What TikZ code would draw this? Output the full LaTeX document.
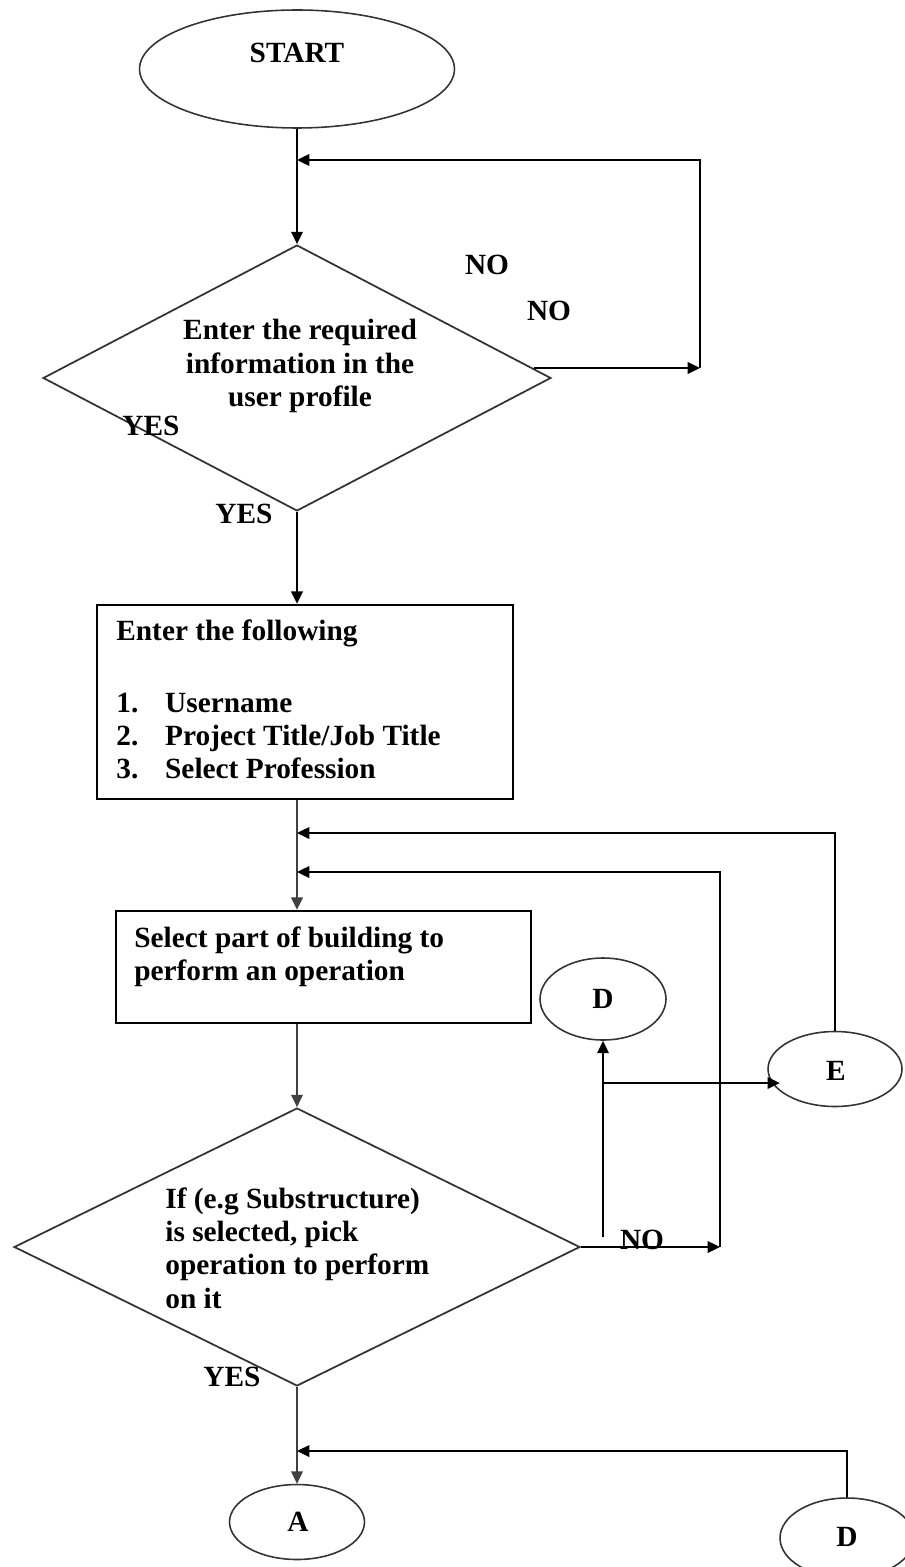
\documentclass[tikz,border=0pt]{standalone}
\usepackage{fontspec}
\setmainfont{Liberation Serif}
\usetikzlibrary{shapes.geometric,arrows.meta}
\begin{document}
\begin{tikzpicture}[x=0.02cm,y=-0.02cm,
  txt/.style={font=\fontsize{16.7}{19}\selectfont\bfseries, inner sep=0pt, text=black},
  conn/.style={line width=1.2pt, draw=black, -{Triangle[length=7pt,width=6.5pt]}},
  trunk/.style={conn, draw=black!75},
  plainline/.style={line width=1.2pt, draw=black},
  oval/.style={ellipse, draw=black!80, line width=0.9pt, inner sep=0pt},
  decision/.style={diamond, draw=black!80, line width=1pt, inner sep=0pt},
  procbox/.style={rectangle, draw=black, line width=1.4pt, inner sep=0pt}]
\useasboundingbox (0,0) rectangle (905,1567);
\clip (0,0) rectangle (905,1567);

% shapes
\node[oval, minimum width=6.3cm, minimum height=2.36cm] (start) at (297,69) {};
\node[txt] (starttxt) at (297,53) {START};

\node[decision, minimum width=10.16cm, minimum height=5.32cm] (d1) at (297,378) {};
\node[txt, align=center] (d1txt) at (300,366) {Enter the required\\information in the\\user profile};

\node[procbox, minimum width=8.32cm, minimum height=3.88cm] (box1) at (305,702) {};
\node[txt, anchor=west] (box1head) at (116,633) {Enter the following};
\node[txt, anchor=west, align=left] (box1list) at (116,736)
  {\makebox[27.8pt][l]{1.}Username\\\makebox[27.8pt][l]{2.}Project Title/Job Title\\\makebox[27.8pt][l]{3.}Select Profession};

\node[procbox, minimum width=8.3cm, minimum height=2.24cm] (box2) at (323.5,967) {};
\node[txt, anchor=west, align=left] (box2txt) at (134,957) {Select part of building to\\perform an operation};

\node[oval, minimum width=2.52cm, minimum height=1.64cm] (Dn) at (603,999) {};
\node[txt] (Dtxt) at (603,999) {D};

\node[oval, minimum width=2.68cm, minimum height=1.5cm] (En) at (835,1069) {};
\node[txt] (Etxt) at (836,1071) {E};

\node[decision, minimum width=11.32cm, minimum height=5.56cm] (d2) at (297,1247) {};
\node[txt, anchor=west, align=left] (d2txt) at (165,1248) {If (e.g Substructure)\\is selected, pick\\operation to perform\\on it};

\node[oval, minimum width=2.7cm, minimum height=1.5cm] (An) at (297,1522) {};
\node[txt] (Atxt) at (298,1522) {A};

\node[oval, minimum width=2.68cm, minimum height=1.6cm] (D2n) at (847,1538) {};
\node[txt] (D2txt) at (847,1537) {D};

% labels
\node[txt] (no1) at (487,265) {NO};
\node[txt] (no2) at (549,311) {NO};
\node[txt] (yes1) at (151,426) {YES};
\node[txt] (yes2) at (244,514) {YES};
\node[txt] (no3) at (642,1240) {NO};
\node[txt] (yes3) at (232,1377) {YES};

% coordinates
\coordinate (j1) at (297,160);
\coordinate (n1s) at (534,368);
\coordinate (n1e) at (700,368);
\coordinate (n1t) at (700,160);
\coordinate (j2) at (297,833);
\coordinate (e1) at (835,833);
\coordinate (j3) at (297,872);
\coordinate (n2e) at (720,1247);
\coordinate (n2t) at (720,872);
\coordinate (dv) at (603,1237);
\coordinate (dj) at (603,1083);
\coordinate (j4) at (297,1451);
\coordinate (d2t) at (847,1451);

% connectors
\draw[conn] (start.south) -- (d1.north);
\draw[conn] (n1s) -- (n1e);
\draw[conn] (n1e) -- (n1t) -- (j1);
\draw[conn] (d1.south) -- (d1.south |- box1.north);
\draw[trunk] (box1.south -| d1.south) -- (box2.north -| d1.south);
\draw[conn] (En.north) -- (e1) -- (j2);
\draw[conn] (n2e) -- (n2t) -- (j3);
\draw[trunk] (box2.south -| d2.north) -- (d2.north);
\draw[conn] (d2.east) -- (n2e);
\draw[conn] (dv) -- (Dn.south);
\draw[conn] (dj) -- (dj -| En.202);
\draw[trunk] (d2.south) -- (An.north);
\draw[conn] (D2n.north) -- (d2t) -- (j4);
\end{tikzpicture}
\end{document}
